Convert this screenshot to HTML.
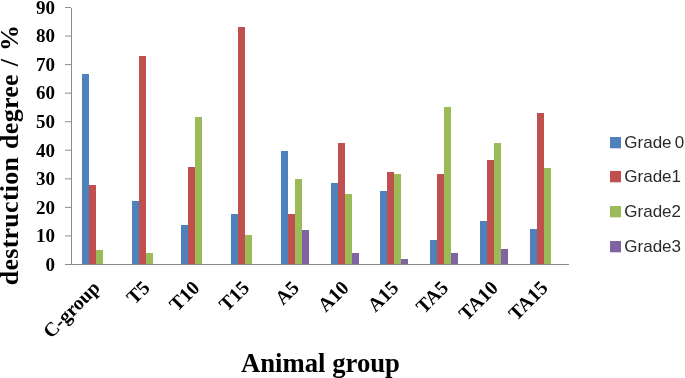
<!DOCTYPE html>
<html><head><meta charset="utf-8"><style>
html,body{margin:0;padding:0;background:#fff;}
body{width:685px;height:378px;overflow:hidden;}
svg{display:block;will-change:transform;}
.ser{font-family:"Liberation Serif",serif;font-weight:bold;fill:#000;}
.san{font-family:"Liberation Sans",sans-serif;fill:#2a2a2a;font-size:17px;}
</style></head><body>
<svg width="685" height="378" viewBox="0 0 685 378">
<rect width="685" height="378" fill="#fff"/>
<g shape-rendering="crispEdges">
<rect x="81.88" y="74.20" width="7.0" height="190.30" fill="#4F81BD"/>
<rect x="88.88" y="185.00" width="7.0" height="79.50" fill="#C0504D"/>
<rect x="95.88" y="249.50" width="7.0" height="15.00" fill="#9BBB59"/>
<rect x="131.62" y="200.60" width="7.0" height="63.90" fill="#4F81BD"/>
<rect x="138.62" y="56.00" width="7.0" height="208.50" fill="#C0504D"/>
<rect x="145.62" y="253.20" width="7.0" height="11.30" fill="#9BBB59"/>
<rect x="181.38" y="224.70" width="7.0" height="39.80" fill="#4F81BD"/>
<rect x="188.38" y="167.00" width="7.0" height="97.50" fill="#C0504D"/>
<rect x="195.38" y="116.90" width="7.0" height="147.60" fill="#9BBB59"/>
<rect x="231.12" y="213.50" width="7.0" height="51.00" fill="#4F81BD"/>
<rect x="238.12" y="27.40" width="7.0" height="237.10" fill="#C0504D"/>
<rect x="245.12" y="234.60" width="7.0" height="29.90" fill="#9BBB59"/>
<rect x="280.88" y="150.80" width="7.0" height="113.70" fill="#4F81BD"/>
<rect x="287.88" y="213.50" width="7.0" height="51.00" fill="#C0504D"/>
<rect x="294.88" y="179.20" width="7.0" height="85.30" fill="#9BBB59"/>
<rect x="301.88" y="230.10" width="7.0" height="34.40" fill="#8064A2"/>
<rect x="330.62" y="183.20" width="7.0" height="81.30" fill="#4F81BD"/>
<rect x="337.62" y="143.40" width="7.0" height="121.10" fill="#C0504D"/>
<rect x="344.62" y="194.10" width="7.0" height="70.40" fill="#9BBB59"/>
<rect x="351.62" y="253.20" width="7.0" height="11.30" fill="#8064A2"/>
<rect x="380.38" y="190.60" width="7.0" height="73.90" fill="#4F81BD"/>
<rect x="387.38" y="171.90" width="7.0" height="92.60" fill="#C0504D"/>
<rect x="394.38" y="173.90" width="7.0" height="90.60" fill="#9BBB59"/>
<rect x="401.38" y="258.90" width="7.0" height="5.60" fill="#8064A2"/>
<rect x="430.12" y="240.30" width="7.0" height="24.20" fill="#4F81BD"/>
<rect x="437.12" y="173.90" width="7.0" height="90.60" fill="#C0504D"/>
<rect x="444.12" y="106.70" width="7.0" height="157.80" fill="#9BBB59"/>
<rect x="451.12" y="253.20" width="7.0" height="11.30" fill="#8064A2"/>
<rect x="479.88" y="220.90" width="7.0" height="43.60" fill="#4F81BD"/>
<rect x="486.88" y="160.00" width="7.0" height="104.50" fill="#C0504D"/>
<rect x="493.88" y="143.40" width="7.0" height="121.10" fill="#9BBB59"/>
<rect x="500.88" y="249.20" width="7.0" height="15.30" fill="#8064A2"/>
<rect x="529.62" y="229.10" width="7.0" height="35.40" fill="#4F81BD"/>
<rect x="536.62" y="112.90" width="7.0" height="151.60" fill="#C0504D"/>
<rect x="543.62" y="167.50" width="7.0" height="97.00" fill="#9BBB59"/>
</g>
<g stroke="#8c8c8c" stroke-width="1" shape-rendering="crispEdges">
<line x1="71.5" y1="7.5" x2="71.5" y2="265"/>
<line x1="65" y1="264.5" x2="569" y2="264.5"/>
</g>
<g stroke="#8c8c8c" stroke-width="1">
<line x1="65" y1="264.50" x2="71" y2="264.50"/>
<line x1="65" y1="235.94" x2="71" y2="235.94"/>
<line x1="65" y1="207.39" x2="71" y2="207.39"/>
<line x1="65" y1="178.83" x2="71" y2="178.83"/>
<line x1="65" y1="150.28" x2="71" y2="150.28"/>
<line x1="65" y1="121.72" x2="71" y2="121.72"/>
<line x1="65" y1="93.17" x2="71" y2="93.17"/>
<line x1="65" y1="64.61" x2="71" y2="64.61"/>
<line x1="65" y1="36.06" x2="71" y2="36.06"/>
<line x1="65" y1="7.50" x2="71" y2="7.50"/>
</g>
<g class="ser" font-size="19">
<text x="55" y="270.80" text-anchor="end">0</text>
<text x="55" y="242.24" text-anchor="end">10</text>
<text x="55" y="213.69" text-anchor="end">20</text>
<text x="55" y="185.13" text-anchor="end">30</text>
<text x="55" y="156.58" text-anchor="end">40</text>
<text x="55" y="128.02" text-anchor="end">50</text>
<text x="55" y="99.47" text-anchor="end">60</text>
<text x="55" y="70.91" text-anchor="end">70</text>
<text x="55" y="42.36" text-anchor="end">80</text>
<text x="55" y="13.80" text-anchor="end">90</text>
</g>
<g class="ser" font-size="19.8">
<text x="101.17" y="289" text-anchor="end" transform="rotate(-45 101.17 289)">C-group</text>
<text x="150.93" y="289" text-anchor="end" transform="rotate(-45 150.93 289)">T5</text>
<text x="200.68" y="289" text-anchor="end" transform="rotate(-45 200.68 289)">T10</text>
<text x="250.43" y="289" text-anchor="end" transform="rotate(-45 250.43 289)">T15</text>
<text x="300.18" y="289" text-anchor="end" transform="rotate(-45 300.18 289)">A5</text>
<text x="349.93" y="289" text-anchor="end" transform="rotate(-45 349.93 289)">A10</text>
<text x="399.68" y="289" text-anchor="end" transform="rotate(-45 399.68 289)">A15</text>
<text x="449.43" y="289" text-anchor="end" transform="rotate(-45 449.43 289)">TA5</text>
<text x="499.18" y="289" text-anchor="end" transform="rotate(-45 499.18 289)">TA10</text>
<text x="548.92" y="289" text-anchor="end" transform="rotate(-45 548.92 289)">TA15</text>
</g>
<text class="ser" font-size="26" letter-spacing="0.27" word-spacing="1" transform="translate(17.8 285.3) rotate(-90)">destruction degree / %</text>
<text class="ser" font-size="26.7" x="241" y="371.5">Animal group</text>
<g class="san">
<rect x="610" y="137" width="11" height="11.3" fill="#4F81BD"/>
<text x="624.3" y="148.2" word-spacing="-1.4">Grade 0</text>
<rect x="610" y="171" width="11" height="11.3" fill="#C0504D"/>
<text x="624.3" y="182.2">Grade1</text>
<rect x="610" y="206" width="11" height="11.3" fill="#9BBB59"/>
<text x="624.3" y="217.2">Grade2</text>
<rect x="610" y="241" width="11" height="11.3" fill="#8064A2"/>
<text x="624.3" y="252.2">Grade3</text>
</g>
</svg>
</body></html>
